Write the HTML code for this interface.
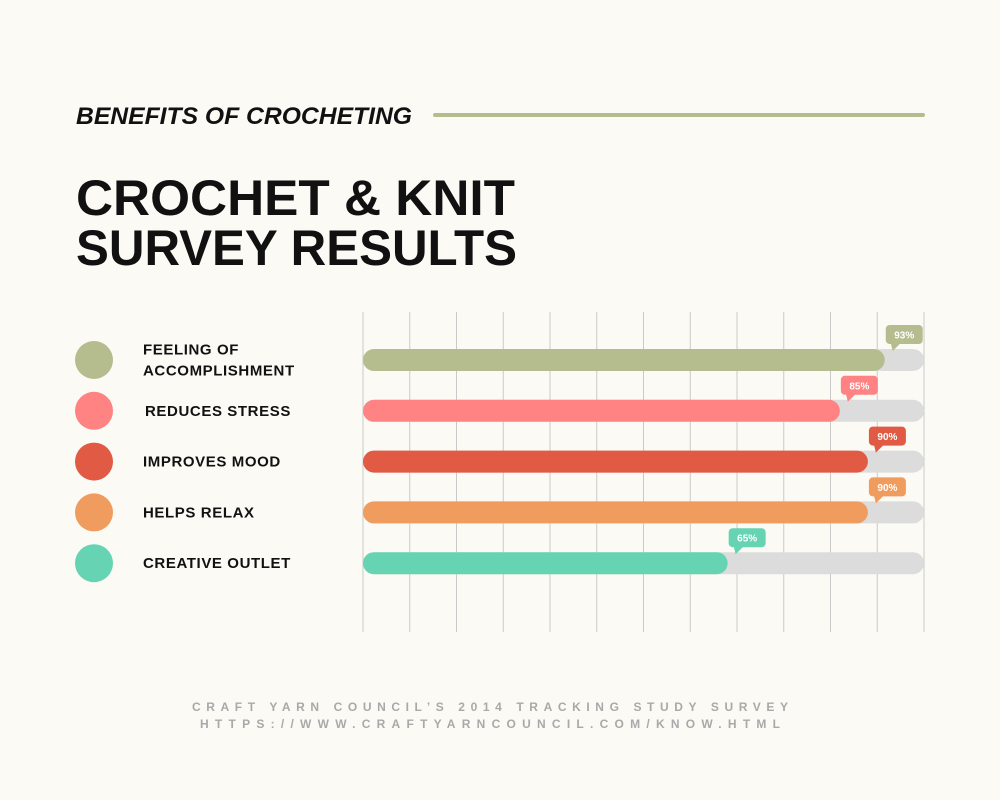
<!DOCTYPE html>
<html><head><meta charset="utf-8"><style>
html,body{margin:0;padding:0;background:#fcfaf4;}
svg{display:block;font-family:"Liberation Sans",sans-serif;}
</style></head><body>
<svg id="chart" width="1000" height="800" viewBox="0 0 1000 800">
<rect width="1000" height="800" fill="#fcfaf4"/>
<text x="76" y="124" font-size="24" font-weight="bold" font-style="italic" fill="#111" textLength="336" lengthAdjust="spacingAndGlyphs">BENEFITS OF CROCHETING</text>
<rect x="433" y="113" width="492" height="4" rx="2" fill="#b5bd8e"/>
<text x="76" y="215" font-size="50" font-weight="bold" fill="#111" textLength="439" lengthAdjust="spacingAndGlyphs">CROCHET &amp; KNIT</text>
<text x="76" y="265" font-size="50" font-weight="bold" fill="#111" textLength="441" lengthAdjust="spacingAndGlyphs">SURVEY RESULTS</text>
<g id="grid"></g><g id="bars"></g><g id="legend"></g>
<text x="490" y="711" text-anchor="middle" font-size="12" font-weight="bold" fill="#a9a9a9" textLength="596" lengthAdjust="spacing">CRAFT YARN COUNCIL’S 2014 TRACKING STUDY SURVEY</text>
<text x="490" y="728" text-anchor="middle" font-size="12" font-weight="bold" fill="#a9a9a9" textLength="580" lengthAdjust="spacing">HTTPS://WWW.CRAFTYARNCOUNCIL.COM/KNOW.HTML</text>
</svg>
<script>
const categories=["FEELING OF|ACCOMPLISHMENT","REDUCES STRESS","IMPROVES MOOD","HELPS RELAX","CREATIVE OUTLET"];
const values=[93,85,90,90,65];
const valueLabels=["93%","85%","90%","90%","65%"];
const colors=["#b5bd8e","#ff8383","#e05a44","#f09c5e","#66d4b2"];
const NS="http://www.w3.org/2000/svg";
const X0=363,X1=924,maxV=100;
function xScale(v){return X0+(X1-X0)*v/maxV;}
function yScale(i){return 360+i*50.8;}
function mk(tag,attrs,parent){const e=document.createElementNS(NS,tag);for(const k in attrs)e.setAttribute(k,attrs[k]);parent.appendChild(e);return e;}
const grid=document.getElementById('grid');
for(let k=0;k<=12;k++){
  const x=X0+(X1-X0)*k/12;
  const l=mk('line',{x1:x,x2:x,y1:312,y2:632,stroke:'#c9c9c9','stroke-width':1},grid);
  
  
}
const bars=document.getElementById('bars'),leg=document.getElementById('legend');
categories.forEach((c,i)=>{
  const y=yScale(i);
  const t=mk('rect',{x:X0,y:y-11,width:X1-X0,height:22,rx:11,fill:'#dcdcdc'},bars);
  
  
  const end=xScale(values[i]);
  const b=mk('rect',{x:X0,y:y-11,width:end-X0,height:22,rx:11,fill:colors[i]},bars);
  
  
  const cx=end+1,cy=y-35;
  const p=mk('path',{d:`M${cx} ${cy} h37 a4 4 0 0 1 0 0 v18 h-26 l-7 7 v-7 h-4 z`,fill:colors[i]},bars);
  const r=mk('rect',{x:cx,y:cy,width:37,height:19,rx:4,fill:colors[i]},bars);
  
  
  
  
  p.setAttribute('d',`M${cx+5} ${cy+18} h10 l-8 8 z`);
  const vt=mk('text',{x:cx+18.5,y:cy+13.5,'text-anchor':'middle','font-size':10,'font-weight':'bold',fill:'#fff'},bars);
  vt.textContent=valueLabels[i];
  
  
  const ci=mk('circle',{cx:94,cy:y,r:19,fill:colors[i]},leg);
  
  
  const lines=c.split('|');
  lines.forEach((ln,j)=>{
    const ty=y+5+(j-(lines.length-1)/2)*21;
    const tt=mk('text',{x:i==1?145:143,y:ty,'font-size':15,'font-weight':'bold',fill:'#111','letter-spacing':0.6},leg);
    tt.textContent=ln;
    
    
  });
});
</script>
</body></html>
